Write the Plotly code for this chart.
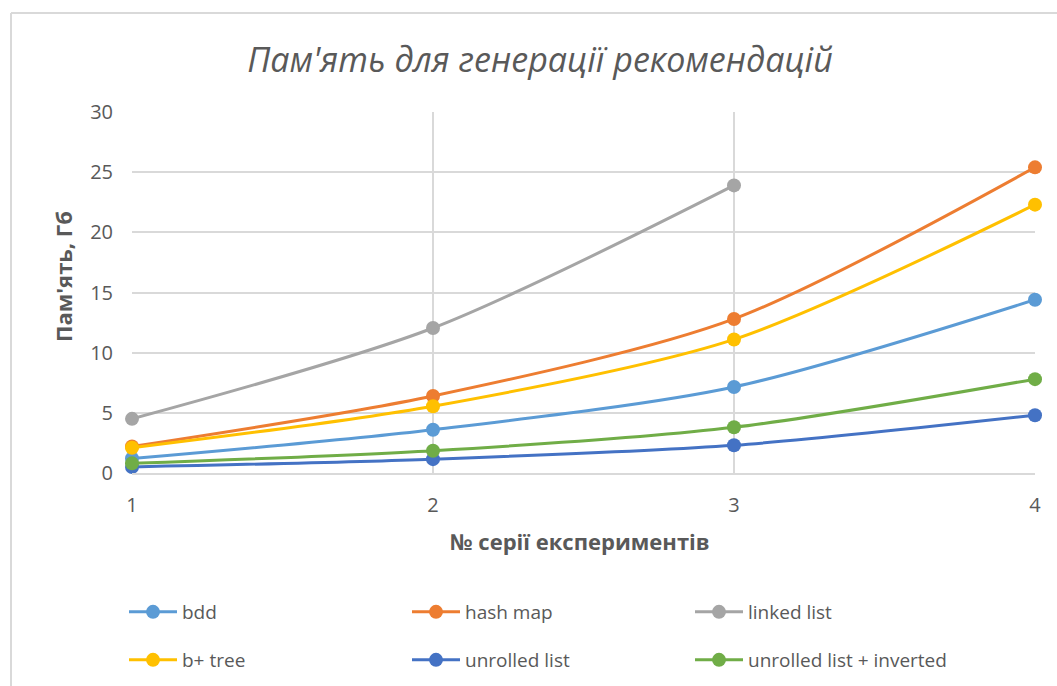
import plotly.graph_objects as go

x_vals = [1, 2, 3, 4]
series_names = ["bdd", "hash map", "linked list", "b+ tree", "unrolled list", "unrolled list + inverted"]
bdd = [1.2, 3.6, 7.15, 14.4]
hash_map = [2.2, 6.4, 12.8, 25.4]
linked_list = [4.5, 12.05, 23.9, None]
b_tree = [2.1, 5.55, 11.1, 22.3]
unrolled = [0.5, 1.15, 2.3, 4.8]
unrolled_inv = [0.8, 1.85, 3.8, 7.8]
colors = ["#5B9BD5", "#ED7D31", "#A5A5A5", "#FFC000", "#4472C4", "#70AD47"]
y_ticks = [0, 5, 10, 15, 20, 25, 30]

title_text = "Пам'ять для генерації рекомендацій"
x_title = "№ серії експериментів"
y_title = "Пам'ять, Гб"

W, H = 1057, 686
L, R, T, B = 132, 22, 112, 213
PW, PH = W - L - R, H - T - B


def px_x(p):
    return (p - L) / PW


def px_y(p):
    return (H - B - p) / PH


fig = go.Figure()
all_series = [bdd, hash_map, linked_list, b_tree, unrolled, unrolled_inv]
for i, (name, ys, c) in enumerate(zip(series_names, all_series, colors)):
    fig.add_trace(go.Scatter(
        x=x_vals, y=ys, name=name, mode="lines+markers",
        line=dict(color=c, width=3, shape="spline", smoothing=0.8),
        marker=dict(color=c, size=14),
        cliponaxis=False,
        legend="legend" if i < 3 else "legend2",
    ))

font_family = "Open Sans"
grey = "#595959"
leg_common = dict(orientation="h", x=px_x(124), xanchor="left", yanchor="middle",
                  entrywidth=220, entrywidthmode="pixels", itemwidth=48,
                  font=dict(size=19, color=grey), bgcolor="rgba(0,0,0,0)")
fig.update_layout(
    width=W, height=H,
    margin=dict(l=L, r=R, t=T, b=B, autoexpand=False),
    paper_bgcolor="white", plot_bgcolor="white",
    font=dict(family=font_family, color=grey),
    title=dict(text=title_text, x=540 / W, xanchor="center", y=1 - 60 / H, yanchor="middle",
               font=dict(size=34, color=grey, style="italic", family=font_family)),
    showlegend=True,
    legend=dict(y=px_y(612), **leg_common),
    legend2=dict(y=px_y(660), **leg_common),
    xaxis=dict(range=[1, 4], tickvals=x_vals, showgrid=True, gridcolor="#D9D9D9", gridwidth=2,
               showline=True, linecolor="#D9D9D9", linewidth=2, zeroline=False,
               ticks="outside", ticklen=13, tickcolor="rgba(0,0,0,0)", automargin=False,
               tickfont=dict(size=20, color=grey)),
    yaxis=dict(range=[0, 30], tickvals=y_ticks, showgrid=True, gridcolor="#D9D9D9", gridwidth=2,
               zeroline=False, showline=False, automargin=False,
               ticks="outside", ticklen=14, tickcolor="rgba(0,0,0,0)",
               tickfont=dict(size=20, color=grey)),
    annotations=[
        dict(text="<b>" + x_title + "</b>", xref="paper", yref="paper",
             x=px_x(580), y=px_y(541),
             xanchor="center", yanchor="middle", showarrow=False,
             font=dict(size=22, color=grey)),
        dict(text="<b>" + y_title + "</b>", xref="paper", yref="paper",
             x=px_x(63), y=px_y(277),
             xanchor="center", yanchor="middle", showarrow=False, textangle=-90,
             font=dict(size=22, color=grey)),
    ],
    shapes=[
        dict(type="line", xref="paper", yref="paper",
             x0=px_x(11), x1=px_x(W + 5), y0=px_y(13), y1=px_y(13),
             line=dict(color="#D9D9D9", width=2)),
        dict(type="line", xref="paper", yref="paper",
             x0=px_x(11), x1=px_x(11), y0=px_y(13), y1=px_y(H + 5),
             line=dict(color="#D9D9D9", width=2)),
    ],
)

fig.write_html("out.html")
